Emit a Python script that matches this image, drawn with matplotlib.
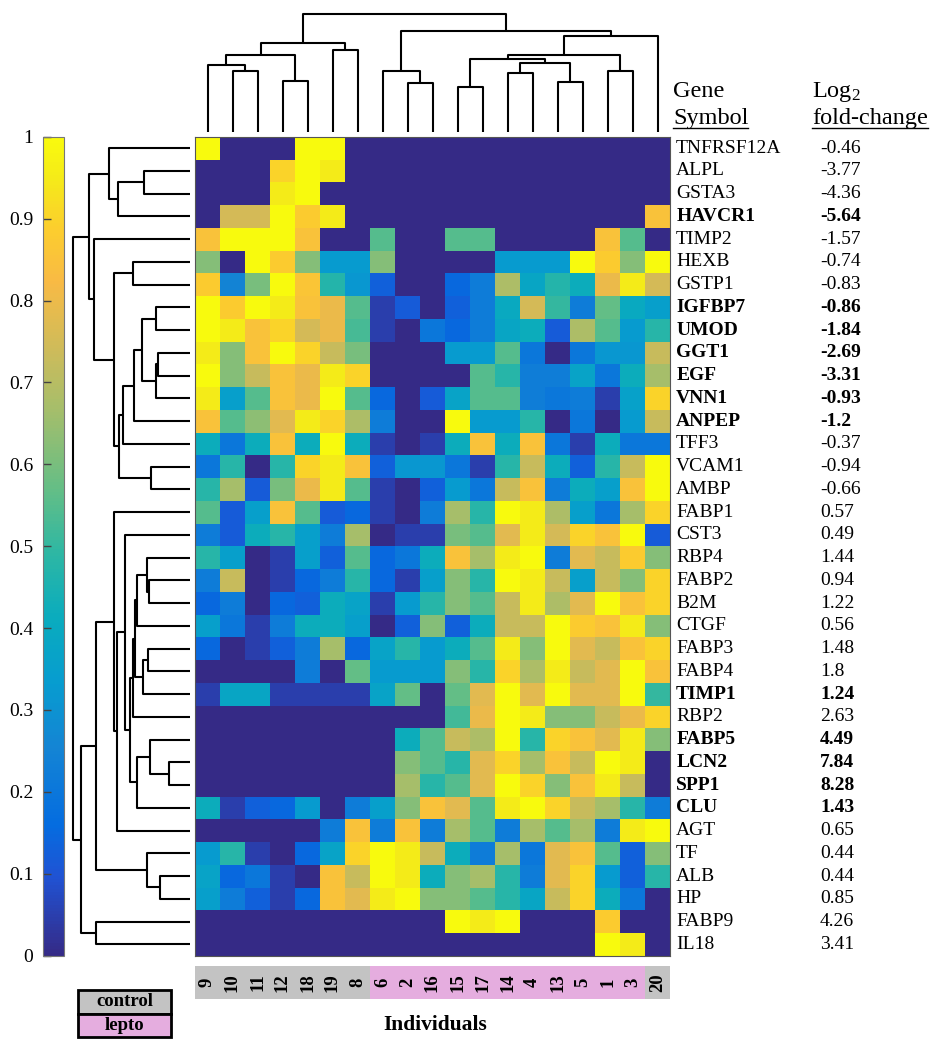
import numpy as np
import matplotlib
matplotlib.use('Agg')
import matplotlib.pyplot as plt
import matplotlib.transforms as mtrans
from matplotlib.colors import LinearSegmentedColormap, ListedColormap
from matplotlib.patches import Rectangle
from matplotlib.lines import Line2D

plt.rcParams['font.family'] = 'Liberation Serif'
plt.rcParams['mathtext.default'] = 'regular'

# ---- data ----
individuals = ['9', '10', '11', '12', '18', '19', '8', '6', '2', '16', '15', '17',
               '14', '4', '13', '5', '1', '3', '20']
group = ['control'] * 7 + ['lepto'] * 11 + ['control']

genes = ['TNFRSF12A', 'ALPL', 'GSTA3', 'HAVCR1', 'TIMP2', 'HEXB', 'GSTP1', 'IGFBP7',
         'UMOD', 'GGT1', 'EGF', 'VNN1', 'ANPEP', 'TFF3', 'VCAM1', 'AMBP', 'FABP1',
         'CST3', 'RBP4', 'FABP2', 'B2M', 'CTGF', 'FABP3', 'FABP4', 'TIMP1', 'RBP2',
         'FABP5', 'LCN2', 'SPP1', 'CLU', 'AGT', 'TF', 'ALB', 'HP', 'FABP9', 'IL18']
bold_genes = ['HAVCR1', 'IGFBP7', 'UMOD', 'GGT1', 'EGF', 'VNN1', 'ANPEP', 'TIMP1',
              'FABP5', 'LCN2', 'SPP1', 'CLU']
log2fc = [-0.46, -3.77, -4.36, -5.64, -1.57, -0.74, -0.83, -0.86, -1.84, -2.69, -3.31,
          -0.93, -1.2, -0.37, -0.94, -0.66, 0.57, 0.49, 1.44, 0.94, 1.22, 0.56, 1.48,
          1.8, 1.24, 2.63, 4.49, 7.84, 8.28, 1.43, 0.65, 0.44, 0.44, 0.85, 4.26, 3.41]

# normalised expression, rows = genes, cols = individuals (order above)
expr = np.array([
    [1, 0, 0, 0, 1, 1, 0, 0, 0, 0, 0, 0, 0, 0, 0, 0, 0, 0, 0],
    [0, 0, 0, .9, 1, .95, 0, 0, 0, 0, 0, 0, 0, 0, 0, 0, 0, 0, 0],
    [0, 0, 0, .95, 1, 0, 0, 0, 0, 0, 0, 0, 0, 0, 0, 0, 0, 0, 0],
    [0, .75, .75, 1, .88, .95, 0, 0, 0, 0, 0, 0, 0, 0, 0, 0, 0, 0, .85],
    [.85, 1, 1, 1, .85, 0, 0, .55, 0, 0, .55, .55, 0, 0, 0, 0, .85, .55, 0],
    [.62, 0, 1, .88, .62, .33, .33, .62, 0, 0, 0, 0, .33, .33, .33, 1, .88, .62, 1],
    [.88, .25, .6, 1, .86, .47, .32, .13, 0, 0, .15, .22, .68, .38, .47, .42, .8, .95, .75],
    [1, .88, 1, .95, .85, .8, .55, .05, .12, 0, .13, .22, .4, .75, .5, .22, .57, .4, .35],
    [1, .95, .85, .9, .75, .8, .53, .05, 0, .2, .15, .22, .38, .42, .12, .68, .55, .33, .48],
    [.95, .62, .85, 1, .9, .73, .6, 0, 0, 0, .33, .33, .55, .2, 0, .2, .32, .32, .73],
    [1, .62, .73, .85, .8, .95, .9, 0, 0, 0, 0, .55, .48, .23, .23, .37, .2, .42, .67],
    [.95, .35, .55, .85, .8, 1, .55, .15, 0, .12, .37, .55, .55, .23, .2, .22, .05, .36, .9],
    [.85, .55, .63, .78, .95, .9, .68, .22, 0, 0, 1, .33, .33, .48, 0, .2, 0, .33, .73],
    [.42, .2, .42, .85, .42, 1, .42, .05, 0, .05, .42, .85, .42, .85, .2, .05, .42, .2, .2],
    [.2, .48, 0, .48, .9, .95, .85, .13, .32, .32, .2, .05, .48, .73, .42, .13, .48, .73, 1],
    [.48, .67, .12, .6, .8, .95, .55, .05, 0, .13, .33, .2, .73, .85, .22, .42, .35, .85, 1],
    [.55, .12, .35, .85, .55, .12, .15, .05, 0, .22, .67, .48, 1, .95, .68, .35, .2, .67, .9],
    [.22, .12, .42, .48, .35, .22, .67, 0, .05, .05, .6, .55, .78, .95, .75, .9, .85, 1, .12],
    [.48, .35, 0, .05, .35, .13, .55, .15, .2, .42, .85, .67, .95, 1, .22, .78, .73, .88, .62],
    [.22, .73, 0, .05, .15, .22, .48, .15, .05, .35, .62, .48, 1, .95, .73, .35, .73, .62, .9],
    [.15, .22, 0, .15, .13, .42, .37, .05, .33, .48, .62, .55, .73, .95, .68, .78, 1, .85, .9],
    [.35, .2, .05, .22, .42, .42, .35, 0, .13, .62, .13, .42, .73, .73, 1, .88, .85, .95, .62],
    [.15, 0, .05, .13, .22, .67, .15, .37, .48, .33, .42, .55, .95, .62, 1, .78, .73, .85, .9],
    [0, 0, 0, 0, .22, 0, .57, .33, .33, .33, .62, .48, .9, .68, .95, .73, .78, 1, .85],
    [.05, .38, .38, .05, .05, .05, .05, .37, .57, 0, .57, .78, 1, .78, 1, .78, .78, 1, .5],
    [0, 0, 0, 0, 0, 0, 0, 0, 0, 0, .52, .8, 1, .95, .62, .62, .73, .8, .9],
    [0, 0, 0, 0, 0, 0, 0, 0, .42, .55, .73, .68, 1, .48, .9, .85, .78, .95, .62],
    [0, 0, 0, 0, 0, 0, 0, 0, .62, .55, .48, .78, .9, .67, .85, .73, 1, .95, 0],
    [0, 0, 0, 0, 0, 0, 0, 0, .67, .48, .55, .78, 1, .9, .62, .85, .95, .73, 0],
    [.42, .05, .13, .15, .33, 0, .22, .35, .62, .85, .78, .55, .95, 1, .9, .73, .67, .48, .22],
    [0, 0, 0, 0, 0, .22, .85, .22, .85, .22, .67, .55, .22, .67, .55, .67, .22, .95, 1],
    [.33, .48, .05, 0, .15, .37, .9, 1, .95, .73, .42, .22, .67, .2, .78, .85, .55, .13, .62],
    [.37, .15, .2, .05, 0, .85, .73, 1, .95, .42, .62, .67, .48, .22, .78, .9, .33, .13, .48],
    [.35, .22, .13, .05, .15, .85, .78, .95, 1, .62, .62, .55, .48, .38, .73, .9, .42, .2, 0],
    [0, 0, 0, 0, 0, 0, 0, 0, 0, 0, 1, .95, 1, 0, 0, 0, .88, 0, 0],
    [0, 0, 0, 0, 0, 0, 0, 0, 0, 0, 0, 0, 0, 0, 0, 0, 1, .95, 0],
])

# linkage (child a, child b, height); ids >= n are earlier merges
col_links = [
    (10, 11, 133), (8, 9, 145), (14, 15, 150), (3, 4, 152), (12, 13, 177),
    (16, 17, 181), (7, 20, 182), (1, 2, 183), (0, 26, 200), (23, 21, 205),
    (19, 28, 218), (27, 22, 230), (29, 24, 230), (5, 6, 245), (30, 32, 267),
    (31, 18, 288), (25, 34, 303), (33, 35, 353),
]
row_links = [
    (27, 28, 62), (32, 33, 90), (9, 10, 97), (38, 11, 101), (7, 8, 103),
    (14, 15, 118), (26, 36, 120), (19, 20, 124), (22, 23, 125), (31, 37, 128),
    (18, 43, 130), (1, 2, 138), (44, 24, 142), (40, 39, 145), (42, 29, 158),
    (46, 21, 160), (51, 48, 164), (49, 12, 168), (52, 25, 170), (5, 6, 172),
    (54, 50, 180), (17, 56, 195), (53, 13, 200), (58, 41, 212), (3, 47, 215),
    (57, 30, 220), (16, 61, 227), (55, 59, 228), (0, 60, 242), (62, 45, 282),
    (34, 35, 282), (4, 63, 287), (64, 67, 302), (65, 66, 328), (68, 69, 350),
]

# parula anchors
parula = LinearSegmentedColormap.from_list('parula', [
    (0.0, (0.208, 0.166, 0.529)), (0.095, (0.125, 0.324, 0.830)),
    (0.159, (0.017, 0.427, 0.879)), (0.254, (0.079, 0.520, 0.831)),
    (0.333, (0.027, 0.614, 0.814)), (0.413, (0.038, 0.674, 0.744)),
    (0.492, (0.180, 0.718, 0.642)), (0.571, (0.395, 0.746, 0.524)),
    (0.667, (0.647, 0.746, 0.419)), (0.746, (0.819, 0.733, 0.350)),
    (0.825, (0.974, 0.731, 0.267)), (0.889, (0.988, 0.807, 0.179)),
    (0.952, (0.960, 0.922, 0.095)), (1.0, (0.976, 0.983, 0.054))])

W, H = 940, 1050
fig = plt.figure(figsize=(W / 100, H / 100), dpi=100)


def box(x0, y0, x1, y1):
    return [x0 / W, 1 - y1 / H, (x1 - x0) / W, (y1 - y0) / H]


def draw_dendro(ax, links, n, top=True):
    pos = {i: float(i) for i in range(n)}
    hgt = {i: 0.0 for i in range(n)}
    for k, (a, b, h) in enumerate(links):
        xs = [pos[a], pos[a], pos[b], pos[b]]
        ys = [hgt[a], h, h, hgt[b]]
        if top:
            ax.plot(xs, ys, color='black', lw=1.5, clip_on=False, solid_capstyle='butt')
        else:
            ax.plot(ys, xs, color='black', lw=1.5, clip_on=False, solid_capstyle='butt')
        pos[n + k] = (pos[a] + pos[b]) / 2
        hgt[n + k] = h


nr, nc = expr.shape
top_y, bot_y = 136.7, 955.7

# heatmap
ax = fig.add_axes(box(195, top_y, 670, bot_y))
im = ax.imshow(expr, cmap=parula, vmin=0, vmax=1, aspect='auto', interpolation='nearest')
ax.set_xticks([])
ax.set_yticks([])
for s in ax.spines.values():
    s.set_color('#555555')
    s.set_linewidth(0.8)
tr = mtrans.blended_transform_factory(ax.transAxes, ax.transData)
for i, g in enumerate(genes):
    w = 'bold' if g in bold_genes else 'normal'
    ax.text(1.013, i, g, transform=tr, va='center', ha='left', fontsize=14, fontweight=w)
    ax.text(1.316, i, str(log2fc[i]), transform=tr, va='center', ha='left',
            fontsize=14, fontweight=w)

# dendrograms
axt = fig.add_axes(box(195, 14, 670, 131.7))
draw_dendro(axt, col_links, nc, top=True)
axt.set_xlim(-0.5, nc - 0.5)
axt.set_ylim(0, max(l[2] for l in col_links))
axt.axis('off')

axl = fig.add_axes(box(73.3, top_y, 190, bot_y))
draw_dendro(axl, row_links, nr, top=False)
axl.set_xlim(max(l[2] for l in row_links), 0)
axl.set_ylim(nr - 0.5, -0.5)
axl.axis('off')

# colorbar
cax = fig.add_axes(box(43, top_y, 64, bot_y))
cb = fig.colorbar(im, cax=cax)
cb.outline.set_edgecolor('#777777')
cb.outline.set_linewidth(0.8)
cticks = np.round(np.arange(0, 1.01, 0.1), 1)
cb.set_ticks(cticks)
cb.set_ticklabels(['0' if t == 0 else ('1' if t == 1 else str(t)) for t in cticks])
cax.yaxis.set_ticks_position('left')
cax.tick_params(direction='in', length=6, width=1, color='#444444', labelsize=14, pad=7)

# individual strip
axs = fig.add_axes(box(195, 966, 670, 999))
gcode = np.array([[0 if g == 'control' else 1 for g in group]])
axs.imshow(gcode, cmap=ListedColormap(['#C3C3C3', '#E5ADDF']), vmin=0, vmax=1,
           aspect='auto', interpolation='nearest')
for j, lab in enumerate(individuals):
    axs.text(j, 0, lab, rotation=90, ha='center', va='center', fontsize=13.5,
             fontweight='bold')
axs.axis('off')

# legend
axg = fig.add_axes(box(78, 990, 171, 1037))
axg.set_xlim(0, 1)
axg.set_ylim(0, 2)
axg.add_patch(Rectangle((0, 1), 1, 1, fc='#C3C3C3', ec='black', lw=2, clip_on=False))
axg.add_patch(Rectangle((0, 0), 1, 1, fc='#E5ADDF', ec='black', lw=2, clip_on=False))
axg.text(0.5, 1.5, 'control', ha='center', va='center', fontsize=13.5, fontweight='bold')
axg.text(0.5, 0.5, 'lepto', ha='center', va='center', fontsize=13.5, fontweight='bold')
axg.axis('off')

fig.text(435 / W, 1 - 1025 / H, 'Individuals', ha='center', va='center', fontsize=15.5,
         fontweight='bold')

# headers
hdr = [
    fig.text(673 / W, 1 - 97 / H, 'Gene', fontsize=17.5, va='baseline'),
    fig.text(673 / W, 1 - 124 / H, 'Symbol', fontsize=17.5, va='baseline'),
    fig.text(812 / W, 1 - 97 / H, 'Log$_2$', fontsize=17.5, va='baseline'),
    fig.text(812 / W, 1 - 124 / H, 'fold-change', fontsize=17.5, va='baseline'),
]
fig.canvas.draw()
inv = fig.transFigure.inverted()
for t in (hdr[1], hdr[3]):
    bb = t.get_window_extent().transformed(inv)
    fig.add_artist(Line2D([bb.x0, bb.x1], [bb.y0 + 0.001, bb.y0 + 0.001],
                          transform=fig.transFigure, color='black', lw=1))

fig.savefig('out.png', dpi=100)
